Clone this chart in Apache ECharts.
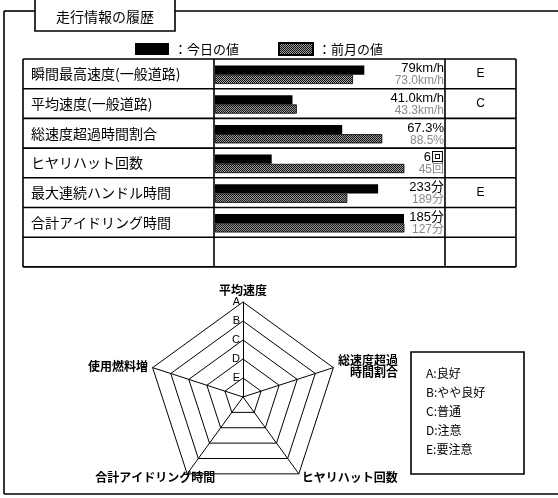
<!DOCTYPE html>
<html>
<head>
<meta charset="utf-8">
<script src="https://cdn.jsdelivr.net/npm/echarts@6/dist/echarts.min.js"></script>
<style>
  html, body { margin: 0; padding: 0; background: #fff; }
  #chart { width: 558px; height: 498px; }
</style>
</head>
<body>
<div id="chart"></div>
<script>
const ROW_NAMES = [
  '瞬間最高速度(一般道路)',
  '平均速度(一般道路)',
  '総速度超過時間割合',
  'ヒヤリハット回数',
  '最大連続ハンドル時間',
  '合計アイドリング時間',
]
const TODAY = [79, 41.0, 67.3, 6, 233, 185]
const PREVIOUS = [73.0, 43.3, 88.5, 45, 189, 127]
const TODAY_DIGITS = [0, 1, 1, 0, 0, 0]
const PREVIOUS_DIGITS = [1, 1, 1, 0, 0, 0]
const UNITS = ['km/h', 'km/h', '%', '回', '分', '分']
const SCALE_MAX = [100, 100, 100, 20, 270, 120]
const GRADES = ['E', 'C', '', '', 'E', '']

const RADAR_AXES = ['平均速度', '使用燃料増', '合計アイドリング時間', 'ヒヤリハット回数', '総速度超過\n時間割合']
const RING_LABELS = ['E', 'D', 'C', 'B', 'A']
const GRADE_LEGEND = ['A:良好', 'B:やや良好', 'C:普通', 'D:注意', 'E:要注意']

const FONT = '"Noto Sans CJK JP", sans-serif'
const NUM_FONT = '"Liberation Sans", "Noto Sans CJK JP", sans-serif'

// table layout
const T_LEFT = 23
const T_RIGHT = 516
const T_TOP = 59
const ROW_H = 29.7
const ROW_COUNT = 7
const COL_BAR = 214
const COL_GRADE = 445
const BAR_RIGHT = 404

function makeDither() {
  const c = document.createElement('canvas')
  c.width = 2
  c.height = 2
  const ctx = c.getContext('2d')
  ctx.fillStyle = '#9c9c9c'
  ctx.fillRect(0, 0, 2, 2)
  ctx.fillStyle = '#111'
  ctx.fillRect(0, 0, 1, 1)
  ctx.fillRect(1, 1, 1, 1)
  return { image: c, repeat: 'repeat' }
}
const dither = makeDither()

function fmt(v, digits, unit) {
  return v.toFixed(digits) + unit
}

const grids = []
const xAxes = []
const yAxes = []
const series = []

ROW_NAMES.forEach((name, i) => {
  const top = T_TOP + i * ROW_H
  grids.push({ left: COL_BAR + 1, top: top + 6.5, width: BAR_RIGHT - COL_BAR - 1, height: 18.5 })
  xAxes.push({ gridIndex: i, type: 'value', min: 0, max: SCALE_MAX[i], show: false })
  yAxes.push({ gridIndex: i, type: 'category', inverse: true, data: ['今日', '前月'], show: false })
  yAxes.push({
    gridIndex: i,
    type: 'category',
    position: 'right',
    offset: COL_GRADE - BAR_RIGHT,
    inverse: true,
    data: [fmt(TODAY[i], TODAY_DIGITS[i], UNITS[i]), fmt(PREVIOUS[i], PREVIOUS_DIGITS[i], UNITS[i])],
    axisLine: { show: false },
    axisTick: { show: false },
    axisLabel: {
      inside: true,
      margin: 1,
      interval: 0,
      formatter: (v, idx) => (idx === 0 ? `{t|${v}}` : `{p|${v}}`),
      rich: {
        t: { color: '#000', fontSize: 13, fontFamily: NUM_FONT, padding: [0, 0, 3, 0] },
        p: { color: '#8a8a8a', fontSize: 12, fontFamily: NUM_FONT, padding: [3, 0, 0, 0] },
      },
    },
  })
  series.push({
    type: 'bar',
    name: '今日の値',
    xAxisIndex: i,
    yAxisIndex: i * 2,
    data: [TODAY[i], '-'],
    barGap: '-100%',
    barCategoryGap: 0,
    itemStyle: { color: '#000' },
  })
  series.push({
    type: 'bar',
    name: '前月の値',
    xAxisIndex: i,
    yAxisIndex: i * 2,
    data: ['-', PREVIOUS[i]],
    barGap: '-100%',
    barCategoryGap: 0,
    itemStyle: { color: dither, borderColor: '#000', borderWidth: 0.8 },
  })
})

const line = (x1, y1, x2, y2, w = 1.6) => ({
  type: 'line',
  silent: true,
  shape: { x1, y1, x2, y2 },
  style: { stroke: '#000', lineWidth: w },
})

const graphic = []
// outer frame
graphic.push(line(4, 11, 35, 11))
graphic.push(line(175, 11, 558, 11))
graphic.push(line(4, 11, 4, 494))
graphic.push(line(4, 494, 558, 494))
// title tab
graphic.push({
  type: 'rect',
  shape: { x: 35, y: -2, width: 140, height: 33 },
  style: { fill: '#fff', stroke: '#000', lineWidth: 1.6 },
})
graphic.push({
  type: 'text',
  style: { text: '走行情報の履歴', x: 105, y: 17, align: 'center', verticalAlign: 'middle', fontSize: 14, fontFamily: FONT, fill: '#000' },
})
// table grid
const tBottom = T_TOP + ROW_COUNT * ROW_H
for (let r = 0; r <= ROW_COUNT; r++) {
  const y = T_TOP + r * ROW_H
  graphic.push(line(T_LEFT, y, T_RIGHT, y))
}
;[T_LEFT, COL_BAR, COL_GRADE, T_RIGHT].forEach((x) => graphic.push(line(x, T_TOP, x, tBottom)))
ROW_NAMES.forEach((name, i) => {
  const cy = T_TOP + (i + 0.5) * ROW_H
  graphic.push({
    type: 'text',
    style: { text: name, x: 31, y: cy, verticalAlign: 'middle', fontSize: 14, fontFamily: FONT, fill: '#000' },
  })
  graphic.push({
    type: 'text',
    style: { text: GRADES[i], x: (COL_GRADE + T_RIGHT) / 2, y: cy, align: 'center', verticalAlign: 'middle', fontSize: 12, fontFamily: NUM_FONT, fill: '#000' },
  })
})
// grade legend box
graphic.push({
  type: 'rect',
  shape: { x: 411, y: 352, width: 113, height: 122 },
  style: { fill: 'none', stroke: '#000', lineWidth: 1.6 },
})
GRADE_LEGEND.forEach((t, i) => {
  graphic.push({
    type: 'text',
    style: { text: t, x: 426, y: 373 + i * 19, verticalAlign: 'middle', fontSize: 12, fontFamily: FONT, fill: '#000' },
  })
})

const chart = echarts.init(document.getElementById('chart'))
chart.setOption({
  animation: false,
  legend: {
    left: 135,
    top: 42,
    padding: 0,
    icon: 'rect',
    itemWidth: 34,
    itemHeight: 12,
    itemGap: 39,
    data: ['今日の値', '前月の値'],
    formatter: '：{name}',
    textStyle: { fontSize: 13, fontFamily: FONT, color: '#000' },
  },
  grid: grids,
  xAxis: xAxes,
  yAxis: yAxes,
  radar: {
    center: [243, 397],
    radius: 95,
    startAngle: 90,
    splitNumber: 5,
    shape: 'polygon',
    axisNameGap: 5,
    axisName: {
      color: '#000',
      fontSize: 12,
      fontWeight: 'bold',
      fontFamily: FONT,
      formatter: (n) => n.split('\n').map((s) => `{n|${s}}`).join('\n'),
      rich: { n: { align: 'right', fontSize: 12, fontWeight: 'bold', fontFamily: FONT, color: '#000' } },
    },
    axisLine: { lineStyle: { color: '#000', width: 1 } },
    splitLine: { lineStyle: { color: '#000', width: 1 } },
    splitArea: { show: false },
    indicator: RADAR_AXES.map((name, i) => {
      const ind = { name, min: 0, max: 5 }
      if (i === 0) {
        ind.axisLabel = {
          show: true,
          margin: 3,
          color: '#000',
          fontSize: 11,
          fontFamily: NUM_FONT,
          formatter: (v) => RING_LABELS[v - 1] || '',
        }
      }
      if (i === 2) {
        ind.nameTextStyle = { align: 'center', padding: [0, 58, 0, 0] }
      }
      return ind
    }),
  },
  series,
  graphic,
})
</script>
</body>
</html>
